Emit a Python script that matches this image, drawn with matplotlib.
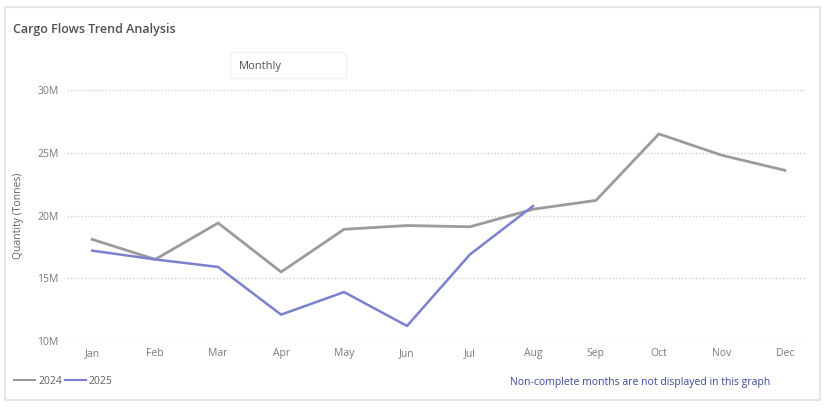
import matplotlib
matplotlib.use("Agg")
import matplotlib.pyplot as plt
from matplotlib.patches import Rectangle
from matplotlib.lines import Line2D

months = ["Jan", "Feb", "Mar", "Apr", "May", "Jun", "Jul", "Aug", "Sep", "Oct", "Nov", "Dec"]
values_2024 = [18.1, 16.5, 19.4, 15.5, 18.9, 19.2, 19.1, 20.5, 21.2, 26.5, 24.8, 23.6]
values_2025 = [17.2, 16.5, 15.9, 12.1, 13.9, 11.2, 16.9, 20.75]
y_ticks = [10, 15, 20, 25, 30]
y_tick_labels = ["10M", "15M", "20M", "25M", "30M"]

plt.rcParams['font.family'] = ['Open Sans', 'DejaVu Sans']

W, H = 830, 408
fig = plt.figure(figsize=(W / 100, H / 100), dpi=100)
fig.patch.set_facecolor("white")

# card border
card = Rectangle((5 / W, 1 - 400 / H), 815 / W, 393 / H, transform=fig.transFigure,
                 facecolor="none", edgecolor="#e6e6e6", linewidth=1.5, zorder=-1)
fig.patches.append(card)

fig.text(13 / W, 1 - 30 / H, "Cargo Flows Trend Analysis", fontsize=9, color="#505050",
         va="center", ha="left", fontweight="semibold")

# Monthly button
btn = Rectangle((230 / W, 1 - 78 / H), 116 / W, 26 / H, transform=fig.transFigure,
                facecolor="none", edgecolor="#f2f2f2", linewidth=1, zorder=-1)
fig.patches.append(btn)
fig.text(239 / W, 1 - 66 / H, "Monthly", fontsize=8, color="#505050", va="center", ha="left")

left, right, top, bottom = 67, 805, 90, 341
ax = fig.add_axes([left / W, 1 - bottom / H, (right - left) / W, (bottom - top) / H])
ax.set_facecolor("none")

x = list(range(len(months)))
ax.plot(x, values_2024, color="#9b9b9b", linewidth=2, zorder=3)
ax.plot(list(range(len(values_2025))), values_2025, color="#7b80cf", linewidth=1.8, zorder=4)

ax.set_xlim(-0.4, 11.32)
ax.set_ylim(10, 30)
ax.set_yticks(y_ticks)
ax.set_yticklabels(y_tick_labels)
ax.set_xticks(x)
ax.set_xticklabels(months)
ax.tick_params(axis="both", length=0, labelsize=7.5, labelcolor="#7a7a7a")
ax.tick_params(axis="y", pad=6)
ax.tick_params(axis="x", pad=5)
for s in ax.spines.values():
    s.set_visible(False)
ax.grid(axis="y", color="#cfcfcf", linestyle=(0, (1, 1.5)), linewidth=1)
ax.set_axisbelow(True)

fig.text(18 / W, 1 - 216 / H, "Quantity (Tonnes)", rotation=90, fontsize=7.5, color="#606060",
         va="center", ha="center")

# legend
handles = [Line2D([], [], color="#9b9b9b", linewidth=1.5),
           Line2D([], [], color="#7b80cf", linewidth=1.5)]
fig.legend(handles, ["2024", "2025"], loc="center left", bbox_to_anchor=(14 / W, 1 - 381 / H),
           ncol=2, frameon=False, fontsize=7.5, labelcolor="#606060", handlelength=2.0,
           handletextpad=0.3, columnspacing=0.3, borderaxespad=0, borderpad=0)

fig.text(770 / W, 1 - 382 / H, "Non-complete months are not displayed in this graph",
         fontsize=7.5, color="#3b4a9a", va="center", ha="right")

fig.savefig("out.png", dpi=100, facecolor="white")
